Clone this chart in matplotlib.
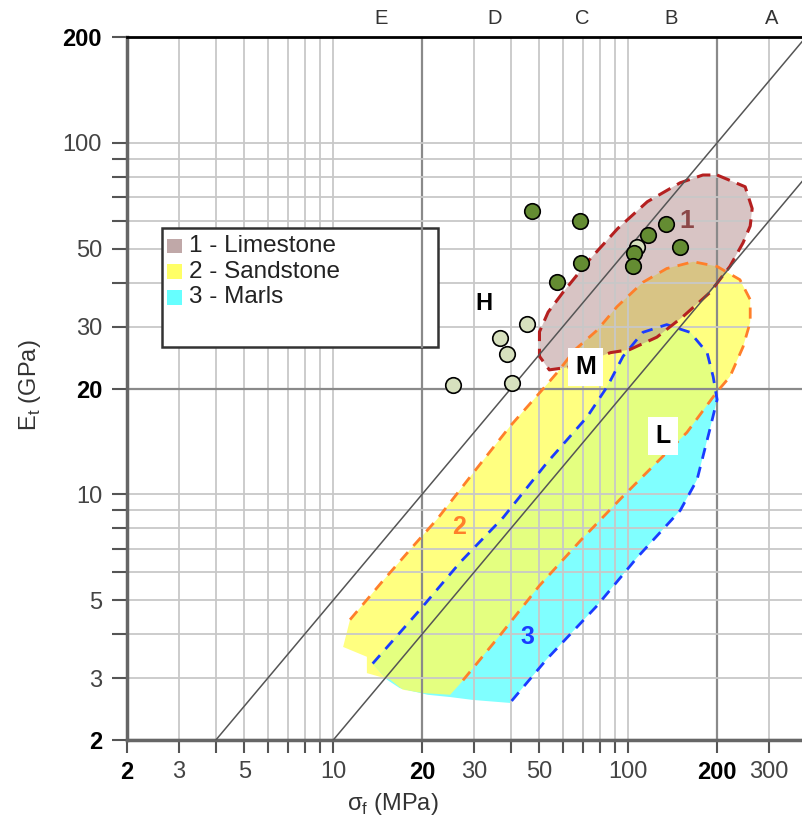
import numpy as np
import matplotlib.pyplot as plt
from matplotlib.patches import Polygon, Rectangle

plt.rcParams['font.family'] = ['Liberation Sans', 'DejaVu Sans']

# --- data (sigma_f in MPa, E_t in GPa) ---
limestone_sig = [200, 249, 263, 259, 245, 221, 189, 153, 125, 101, 87, 65, 54, 50, 50, 53.5, 60, 74, 92, 116, 150, 179]
limestone_E = [81, 75, 65, 58, 52, 44.5, 37.5, 32, 28, 25.8, 25.3, 23.1, 22.6, 24.7, 29, 33, 37.5, 46.6, 57, 68, 77, 81]

sand_line_sig = [11.4, 14.8, 18.6, 22.5, 29.8, 39.7, 50.2, 57.4, 66, 78.4, 91.6, 112, 135, 166, 200, 239, 259,
                 259, 245, 221, 200, 158, 121, 94, 69, 50, 37, 27]
sand_line_E = [4.4, 5.7, 7.1, 8.5, 11.5, 15.6, 19.5, 22.2, 25.8, 29.3, 34.2, 40.1, 43.9, 45.9, 44.5, 40.8, 35.8,
               30.9, 26.3, 21.6, 19.6, 15, 12, 9.7, 7.4, 5.5, 4.0, 2.9]
sand_base_sig = [24.9, 20.2, 17.2, 15.6, 13, 13, 10.8]
sand_base_E = [2.69, 2.72, 2.78, 2.97, 3.1, 3.45, 3.68]

marl_line_sig = [13.6, 19.7, 26.9, 37.7, 53, 72.5, 85, 96, 112, 135, 162, 185, 194, 200, 189, 171, 150, 107, 78, 53, 39.7]
marl_line_E = [3.3, 4.7, 6.4, 8.6, 12.3, 16.6, 20.3, 24.7, 28.9, 30.4, 28.9, 25.3, 21.6, 18.6, 15.3, 11.0, 9.0, 6.6, 4.8, 3.4, 2.55]
marl_base_sig = [29.8, 24.9, 20.9, 16.8, 15.2]
marl_base_E = [2.6, 2.65, 2.69, 2.81, 2.97]

dark_sig = [47.2, 68.7, 69.2, 57.4, 134, 116.7, 104.7, 103.8, 150]
dark_E = [63.9, 59.8, 45.4, 40.1, 58.6, 54.6, 48.5, 44.5, 50.4]
light_sig = [45.4, 36.7, 38.8, 25.5, 40.4, 107]
light_E = [30.6, 27.9, 25.0, 20.5, 20.8, 50.4]

ratios = [0.5, 0.2]          # E/sigma lines (GPa/MPa)
zone_names = ['E', 'D', 'C', 'B', 'A']
zone_sig = [14.5, 35.3, 69.7, 140, 307]

xticks = [2, 3, 4, 5, 6, 7, 8, 9, 10, 20, 30, 40, 50, 60, 70, 80, 90, 100, 200, 300]
xlabeled = [2, 3, 5, 10, 20, 30, 50, 100, 200, 300]
yticks = [2, 3, 4, 5, 6, 7, 8, 9, 10, 20, 30, 40, 50, 60, 70, 80, 90, 100, 200]
ylabeled = [2, 3, 5, 10, 20, 30, 50, 100, 200]
bold_ticks = [2, 20, 200]

fig = plt.figure(figsize=(8.02, 8.25), dpi=100)
ax = fig.add_axes([0.1584, 0.1030, 0.8416, 0.8521])
ax.set_xscale('log')
ax.set_yscale('log')
ax.set_xlim(2, 388)
ax.set_ylim(2, 200)

# grid
for v in xticks:
    strong = v in bold_ticks
    ax.axvline(v, color='#8a8a8a' if strong else '#c8c8c8', lw=1.6 if strong else 1.3, zorder=2.5)
for v in yticks:
    strong = v in bold_ticks
    ax.axhline(v, color='#8a8a8a' if strong else '#c8c8c8', lw=1.6 if strong else 1.3, zorder=2.5)

# regions
sand_xy = list(zip(sand_line_sig + sand_base_sig, sand_line_E + sand_base_E))
marl_xy = list(zip(marl_line_sig + marl_base_sig, marl_line_E + marl_base_E))
lime_xy = list(zip(limestone_sig, limestone_E))

sand_patch = Polygon(sand_xy, closed=True, fc='#ffff80', ec='none', zorder=1)
ax.add_patch(sand_patch)
ax.add_patch(Polygon(marl_xy, closed=True, fc='#80ffff', ec='none', zorder=1.1))
overlap = Polygon(marl_xy, closed=True, fc='#e4ff80', ec='none', zorder=1.2)
ax.add_patch(overlap)
overlap.set_clip_path(sand_patch)
ax.add_patch(Polygon(lime_xy, closed=True, fc=(0.70, 0.54, 0.54), alpha=0.5, ec='none', zorder=1.3))

ax.plot(sand_line_sig, sand_line_E, ls=(0, (4, 3)), color='#ff7f2a', lw=2, zorder=3)
ax.plot(marl_line_sig, marl_line_E, ls=(0, (4, 3)), color='#1a3cff', lw=2, zorder=3)
ax.plot(limestone_sig + limestone_sig[:1], limestone_E + limestone_E[:1], ls=(0, (4.5, 2.5)),
        color='#b52020', lw=2.2, zorder=3)

# ratio lines
s = np.array([2, 400])
for r in ratios:
    ax.plot(s, s * r, color='#555555', lw=1.1, zorder=3.2)

# points
ax.scatter(light_sig, light_E, s=125, c='#d7e1be', edgecolors='black', linewidths=1.2, zorder=4)
ax.scatter(dark_sig, dark_E, s=125, c='#648c32', edgecolors='black', linewidths=1.2, zorder=4.5)

# region labels
ax.text(158, 59.8, '1', color='#8c4848', fontsize=19, fontweight='bold', ha='center', va='center', zorder=5)
ax.text(26.6, 8.05, '2', color='#ff7f2a', fontsize=18, fontweight='bold', ha='center', va='center', zorder=5)
ax.text(45.4, 3.93, '3', color='#1a3cff', fontsize=18, fontweight='bold', ha='center', va='center', zorder=5)
ax.text(32.4, 34.8, 'H', color='black', fontsize=17, fontweight='bold', ha='center', va='center', zorder=5)
ax.text(71.5, 23.1, 'M', color='black', fontsize=18, fontweight='bold', ha='center', va='center', zorder=5,
        bbox=dict(fc='white', ec='none', pad=5))
ax.text(131, 14.7, 'L', color='black', fontsize=18, fontweight='bold', ha='center', va='center', zorder=5,
        bbox=dict(fc='white', ec='none', pad=5))

# zone letters
for name, x in zip(zone_names, zone_sig):
    ax.text(x, 1.027, name, transform=ax.get_xaxis_transform(), ha='center', va='center',
            fontsize=14.5, color='#333333')

# legend box
ax.add_patch(Rectangle((0.052, 0.559), 0.409, 0.169, transform=ax.transAxes, fc='white',
                       ec='#333333', lw=1.8, zorder=2.6))
ax.axvline(20, ymin=0.559, ymax=0.728, color='#8a8a8a', lw=1.6, zorder=2.7)
leg_names = ['1 - Limestone', '2 - Sandstone', '3 - Marls']
leg_colors = ['#c0a8a8', '#ffff66', '#66ffff']
for i, (nm, col) in enumerate(zip(leg_names, leg_colors)):
    yc = 0.7027 - i * 0.0365
    ax.add_patch(Rectangle((0.059, yc - 0.0105), 0.022, 0.021, transform=ax.transAxes,
                           fc=col, ec='none', zorder=2.8))
    ax.text(0.092, yc, nm, transform=ax.transAxes, va='center', ha='left', fontsize=17.5,
            color='#222222', zorder=2.8)

# ticks
ax.set_xticks(xticks)
ax.set_xticklabels([str(v) if v in xlabeled else '' for v in xticks])
ax.set_yticks(yticks)
ax.set_yticklabels([str(v) if v in ylabeled else '' for v in yticks])
ax.minorticks_off()
ax.tick_params(direction='out', width=1.5, color='#555555', labelsize=17, labelcolor='#444444')
ax.tick_params(axis='x', length=9, pad=6)
ax.tick_params(axis='y', length=11, pad=7)
for lab in ax.get_xticklabels() + ax.get_yticklabels():
    if lab.get_text() in [str(b) for b in bold_ticks]:
        lab.set_fontweight('bold')
        lab.set_color('black')

for side in ['left', 'bottom']:
    ax.spines[side].set_color('#666666')
    ax.spines[side].set_linewidth(2.5)
ax.spines['top'].set_color('black')
ax.spines['top'].set_linewidth(2)
ax.spines['right'].set_visible(False)

ax.set_xlabel(r'σ$_\mathregular{f}$ (MPa)', fontsize=17, color='#333333')
ax.set_ylabel(r'E$_\mathregular{t}$ (GPa)', fontsize=17, color='#333333')
ax.xaxis.set_label_coords(0.394, -0.072)
ax.yaxis.set_label_coords(-0.124, 0.505)

fig.savefig('out.png', dpi=100)
